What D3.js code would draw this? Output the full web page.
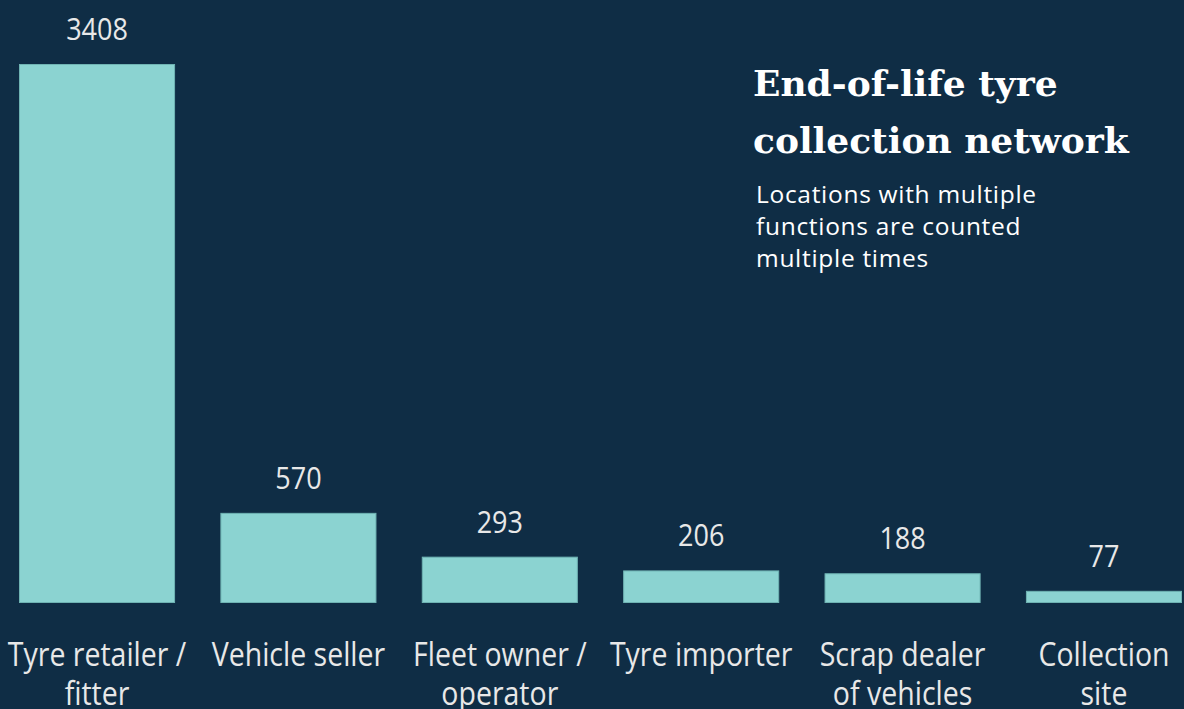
<!DOCTYPE html>
<html><head><meta charset="utf-8">
<script src="https://cdn.jsdelivr.net/npm/d3@7"></script>
<style>html,body{margin:0;padding:0;background:#0f2d45;overflow:hidden}</style>
</head><body>
<svg id="c" width="1184" height="709"></svg>
<script>
const categories = [["Tyre retailer /","fitter"],["Vehicle seller"],["Fleet owner /","operator"],["Tyre importer"],["Scrap dealer","of vehicles"],["Collection","site"]];
const values = [3408, 570, 293, 206, 188, 77];
const titleLines = ["End-of-life tyre","collection network"];
const subtitleLines = ["Locations with multiple","functions are counted","multiple times"];

const svg = d3.select("#c");
svg.append("rect").attr("width",1184).attr("height",709).attr("fill","#0f2d45");

const x = d3.scaleBand().domain(d3.range(values.length)).range([19,1182]).paddingInner(0.225).paddingOuter(0);
const y = d3.scaleLinear().domain([0,3408]).range([603,64]);

svg.selectAll("rect.bar").data(values).join("rect").attr("class","bar")
  .attr("x",(d,i)=>x(i)+0.5).attr("width",x.bandwidth()-1)
  .attr("y",d=>y(d)+0.5).attr("height",d=>y(0)-y(d)-1)
  .attr("fill","#8bd3d1").attr("stroke","#6fb3b3").attr("stroke-width",1);

const font = "'Open Sans', 'Noto Sans', sans-serif";
const sy = 1.12;
svg.selectAll("text.val").data(values).join("text").attr("class","val")
  .attr("transform",(d,i)=>`translate(${x(i)+x.bandwidth()/2},${y(d)-24}) scale(1,${sy})`)
  .attr("text-anchor","middle").attr("fill","#e8e8e8")
  .style("font-family",font).style("font-size","27px").text(d=>d);

categories.forEach((lines,i)=>{
  lines.forEach((l,j)=>{
    svg.append("text")
      .attr("transform",`translate(${x(i)+x.bandwidth()/2},${666+j*39}) scale(1,${sy})`)
      .attr("text-anchor","middle").attr("fill","#e8e8e8")
      .style("font-family",font).style("font-size","28.5px").text(l);
  });
});

const tt = svg.append("text").attr("fill","#ffffff")
  .style("font-family","'DejaVu Serif', serif").style("font-weight","bold").style("font-size","36px");
titleLines.forEach((l,j)=>tt.append("tspan").attr("x",753).attr("y",96+j*57).text(l));

const st = svg.append("text").attr("fill","#ffffff")
  .style("font-family","'Open Sans', sans-serif").style("font-size","24.5px").style("letter-spacing","0.7px");
subtitleLines.forEach((l,j)=>st.append("tspan").attr("x",756).attr("y",203+j*32).text(l));
</script>
</body></html>
